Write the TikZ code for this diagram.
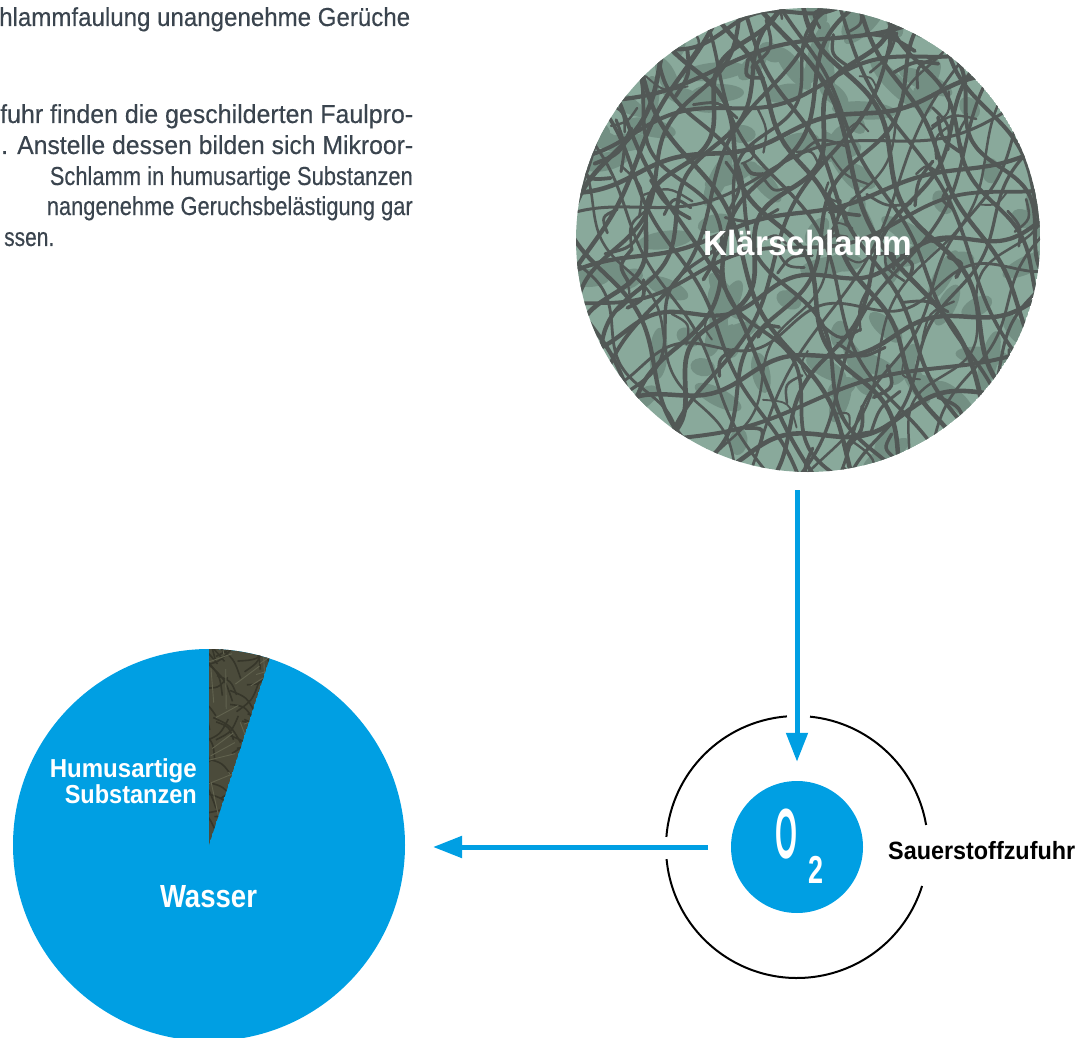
\documentclass[tikz,border=0pt]{standalone}
\usepackage{fontspec}
\usepackage{graphicx}
\setmainfont{Liberation Sans}
\newfontfamily\parafont[FakeBold=0.35]{Liberation Sans}
\usetikzlibrary{arrows.meta}
\definecolor{wblue}{HTML}{009FE3}
\definecolor{sludge}{HTML}{89A99B}
\definecolor{sludgemid}{HTML}{738F83}
\definecolor{sludgedark}{HTML}{525856}
\definecolor{humus}{HTML}{4B4B3B}
\definecolor{humusline}{HTML}{36362A}
\definecolor{humuslight}{HTML}{62634F}
\definecolor{paragraph}{HTML}{3A444E}
\newcommand\fitw[2]{\resizebox{#1}{\height}{#2}}
\begin{document}
\begin{tikzpicture}[x=1pt,y=-1pt,
  ptext/.style={inner sep=0pt, text=paragraph, font=\parafont\fontsize{26pt}{30pt}\selectfont},
  wlabel/.style={inner sep=0pt, text=white, font=\bfseries},
  blabel/.style={inner sep=0pt, text=black, font=\bfseries\fontsize{25pt}{30pt}\selectfont},
  flow/.style={draw=wblue, line width=5pt, -{Triangle[length=29pt,width=21pt]}},
  ring/.style={draw=black, line width=2pt}]
\useasboundingbox (0,0) rectangle (1088,1038);

% paragraph
\node[ptext, anchor=base west] (p1) at (-1,26) {\fitw{411pt}{hlammfaulung unangenehme Gerüche}};
\node[ptext, anchor=base west] (p2) at (0,123) {\fitw{413pt}{fuhr finden die geschilderten Faulpro-}};
\node[ptext, anchor=base west] (p3) at (1,154) {\fitw{412pt}{. Anstelle dessen bilden sich Mikroor-}};
\node[ptext, anchor=base east] (p4) at (413,185) {\fitw{363pt}{Schlamm in humusartige Substanzen}};
\node[ptext, anchor=base east] (p5) at (413,215) {\fitw{366pt}{nangenehme Geruchsbelästigung gar}};
\node[ptext, anchor=base west] (p6) at (4,246) {\fitw{50pt}{ssen.}};

% Klaerschlamm disc
\node[circle, minimum size=464pt, inner sep=0pt] (K) at (808,240) {};
\begin{scope}
  \clip (K.center) circle[radius=232pt];
  \fill[sludge] (K.center) circle[radius=232pt];
  \pgfmathsetseed{11}
  \foreach \i in {1,...,120}{
    \pgfmathsetmacro{\xa}{570+480*rnd}
    \pgfmathsetmacro{\ya}{0+480*rnd}
    \pgfmathsetmacro{\ang}{-30+180*rnd}
    \pgfmathsetmacro{\rx}{12+22*rnd}
    \fill[sludgemid, rotate around={\ang:(\xa,\ya)}] (\xa,\ya) ellipse[x radius=\rx pt, y radius=9pt];
  }
  \foreach \rot/\sd/\sp in {62/3/22, 118/4/22, 15/5/38}{
    \begin{scope}[shift={(K.center)}, rotate=\rot]
      \pgfmathsetseed{\sd}
      \foreach \k in {-12,...,12}{
        \pgfmathsetmacro{\ph}{360*rnd}
        \pgfmathsetmacro{\am}{4+10*rnd}
        \pgfmathsetmacro{\fr}{1.2+1.4*rnd}
        \pgfmathsetmacro{\lw}{2.4+2.4*rnd}
        \pgfmathsetmacro{\off}{\k*\sp+10*rnd}
        \draw[sludgedark, line width=\lw pt] plot[domain=-240:240, samples=45, smooth] (\x, {\off+\am*sin(\fr*\x+\ph)});
      }
    \end{scope}
  }
  \pgfmathsetseed{21}
  \foreach \i in {1,...,120}{
    \pgfmathsetmacro{\xa}{560+500*rnd}
    \pgfmathsetmacro{\ya}{-10+500*rnd}
    \pgfmathsetmacro{\ang}{360*rnd}
    \pgfmathsetmacro{\L}{20+35*rnd}
    \pgfmathsetmacro{\w}{6+10*rnd}
    \pgfmathsetmacro{\xb}{\xa+\L*cos(\ang)}
    \pgfmathsetmacro{\yb}{\ya+\L*sin(\ang)}
    \pgfmathsetmacro{\xc}{\xa+\L/2*cos(\ang)-\w*sin(\ang)}
    \pgfmathsetmacro{\yc}{\ya+\L/2*sin(\ang)+\w*cos(\ang)}
    \pgfmathsetmacro{\lw}{1.8+2.2*rnd}
    \draw[sludgedark, line width=\lw pt, line cap=round] (\xa,\ya) .. controls (\xc,\yc) .. (\xb,\yb);
  }
\end{scope}
\node[wlabel, anchor=base, font=\bfseries\fontsize{35pt}{40pt}\selectfont] (Kt) at (808,255) {\fitw{209pt}{Klärschlamm}};

% oxygen
\node[circle, fill=wblue, minimum size=132pt, inner sep=0pt] (O) at (797,847) {};
\node[inner sep=0pt, text=white, anchor=base west, font=\bfseries\fontsize{71pt}{80pt}\selectfont] (Ot) at (775,858) {\fitw{22pt}{O}};
\node[inner sep=0pt, text=white, anchor=base west, font=\bfseries\fontsize{39pt}{44pt}\selectfont] (Ot2) at (808,883) {\fitw{15pt}{2}};
\begin{scope}[shift={(O.center)}, x=1pt, y=1pt]
  \draw[ring] (94.4:131) arc[start angle=94.4, end angle=175.6, radius=131];
  \draw[ring] (185.3:131) arc[start angle=185.3, end angle=342.7, radius=131];
  \draw[ring] (9.7:131) arc[start angle=9.7, end angle=84.3, radius=131];
\end{scope}
\node[blabel, anchor=base west] (S) at (888,859) {\fitw{187pt}{Sauerstoffzufuhr}};

% result pie
\node[circle, fill=wblue, minimum size=392pt, inner sep=0pt] (P) at (209,845) {};
\begin{scope}[shift={(P.center)}, x=1pt, y=1pt]
  \path[clip] (0,0) -- (72:196) arc[start angle=72, end angle=90, radius=196] -- cycle;
  \fill[humus] (0,0) -- (72:196) arc[start angle=72, end angle=90, radius=196] -- cycle;
  \pgfmathsetseed{5}
  \foreach \i in {1,...,70}{
    \pgfmathsetmacro{\xa}{-10+80*rnd}
    \pgfmathsetmacro{\ya}{0+200*rnd}
    \pgfmathsetmacro{\ang}{ifthenelse(rnd<0.5,40,130)+40*(rnd-0.5)}
    \pgfmathsetmacro{\L}{20+30*rnd}
    \pgfmathsetmacro{\xb}{\xa+\L*cos(\ang)}
    \pgfmathsetmacro{\yb}{\ya+\L*sin(\ang)}
    \pgfmathsetmacro{\xc}{\xa+\L/2*cos(\ang)+6*sin(\ang)}
    \pgfmathsetmacro{\yc}{\ya+\L/2*sin(\ang)-6*cos(\ang)}
    \draw[humusline, line width=1.6pt] (\xa,\ya) .. controls (\xc,\yc) .. (\xb,\yb);
  }
  \foreach \i in {1,...,40}{
    \pgfmathsetmacro{\xa}{-10+80*rnd}
    \pgfmathsetmacro{\ya}{0+200*rnd}
    \pgfmathsetmacro{\ang}{ifthenelse(rnd<0.5,20,110)+40*(rnd-0.5)}
    \pgfmathsetmacro{\L}{15+25*rnd}
    \pgfmathsetmacro{\xb}{\xa+\L*cos(\ang)}
    \pgfmathsetmacro{\yb}{\ya+\L*sin(\ang)}
    \draw[humuslight, line width=0.9pt] (\xa,\ya) -- (\xb,\yb);
  }
\end{scope}
\node[wlabel, anchor=base east, font=\bfseries\fontsize{26pt}{30pt}\selectfont] (H1) at (197,777) {\fitw{147pt}{Humusartige}};
\node[wlabel, anchor=base east, font=\bfseries\fontsize{26pt}{30pt}\selectfont] (H2) at (197,803) {\fitw{132pt}{Substanzen}};
\node[wlabel, anchor=base, font=\bfseries\fontsize{32pt}{36pt}\selectfont] (W) at (208.5,907) {\fitw{97pt}{Wasser}};

% connectors
\coordinate (Pin) at (433,847);
\draw[flow] ([yshift=-18pt]K.south -| O.north) -- ([yshift=19pt]O.north);
\draw[flow] ([xshift=-23pt]O.west) -- (Pin);
\end{tikzpicture}
\end{document}
